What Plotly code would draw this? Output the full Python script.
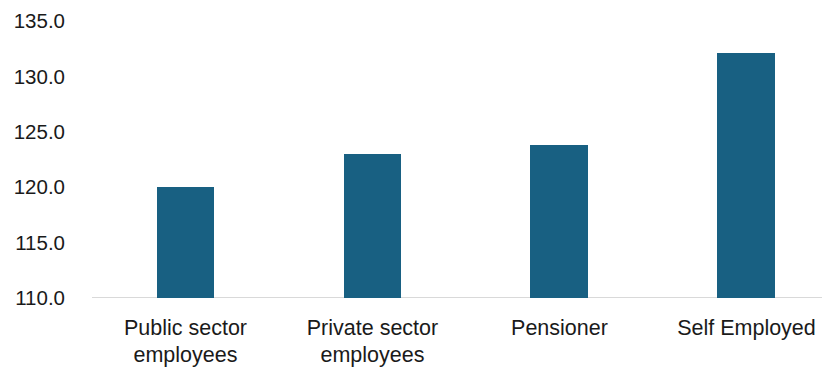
import plotly.graph_objects as go

categories = ["Public sector<br>employees", "Private sector<br>employees", "Pensioner", "Self Employed"]
values = [120.0, 123.0, 123.8, 132.1]
y_ticks = [110, 115, 120, 125, 130, 135]
y_tick_labels = ["110.0", "115.0", "120.0", "125.0", "130.0", "135.0"]

BAR_COLOR = "#186082"
FONT = "Liberation Sans"

fig = go.Figure(
    go.Bar(
        x=list(range(len(categories))),
        y=values,
        base=0,
        width=0.31,
        marker=dict(color=BAR_COLOR, line=dict(width=0)),
    )
)

fig.update_layout(
    width=822,
    height=369,
    margin=dict(l=92, r=0, t=21, b=71),
    paper_bgcolor="white",
    plot_bgcolor="white",
    showlegend=False,
    font=dict(family=FONT, size=20, color="#1a1a1a"),
    bargap=0,
)

fig.update_xaxes(
    range=[-0.5, 3.404],
    tickmode="array",
    tickvals=list(range(len(categories))),
    ticktext=categories,
    showgrid=False,
    zeroline=False,
    showline=False,
    ticks="",
    tickfont=dict(family=FONT, size=21.5, color="#1a1a1a"),
    ticklabelstandoff=14,
)

fig.update_yaxes(
    range=[110, 135],
    tickmode="array",
    tickvals=y_ticks,
    ticktext=y_tick_labels,
    showgrid=False,
    zeroline=False,
    showline=False,
    ticks="",
    tickfont=dict(family=FONT, size=20.5, color="#1a1a1a"),
    ticklabelstandoff=26,
)

# light baseline along the bottom of the plot area
fig.add_shape(
    type="line", xref="paper", yref="y",
    x0=0, x1=1, y0=110, y1=110,
    line=dict(color="#D9D9D9", width=2),
    layer="below",
)

fig.write_html("out.html")
